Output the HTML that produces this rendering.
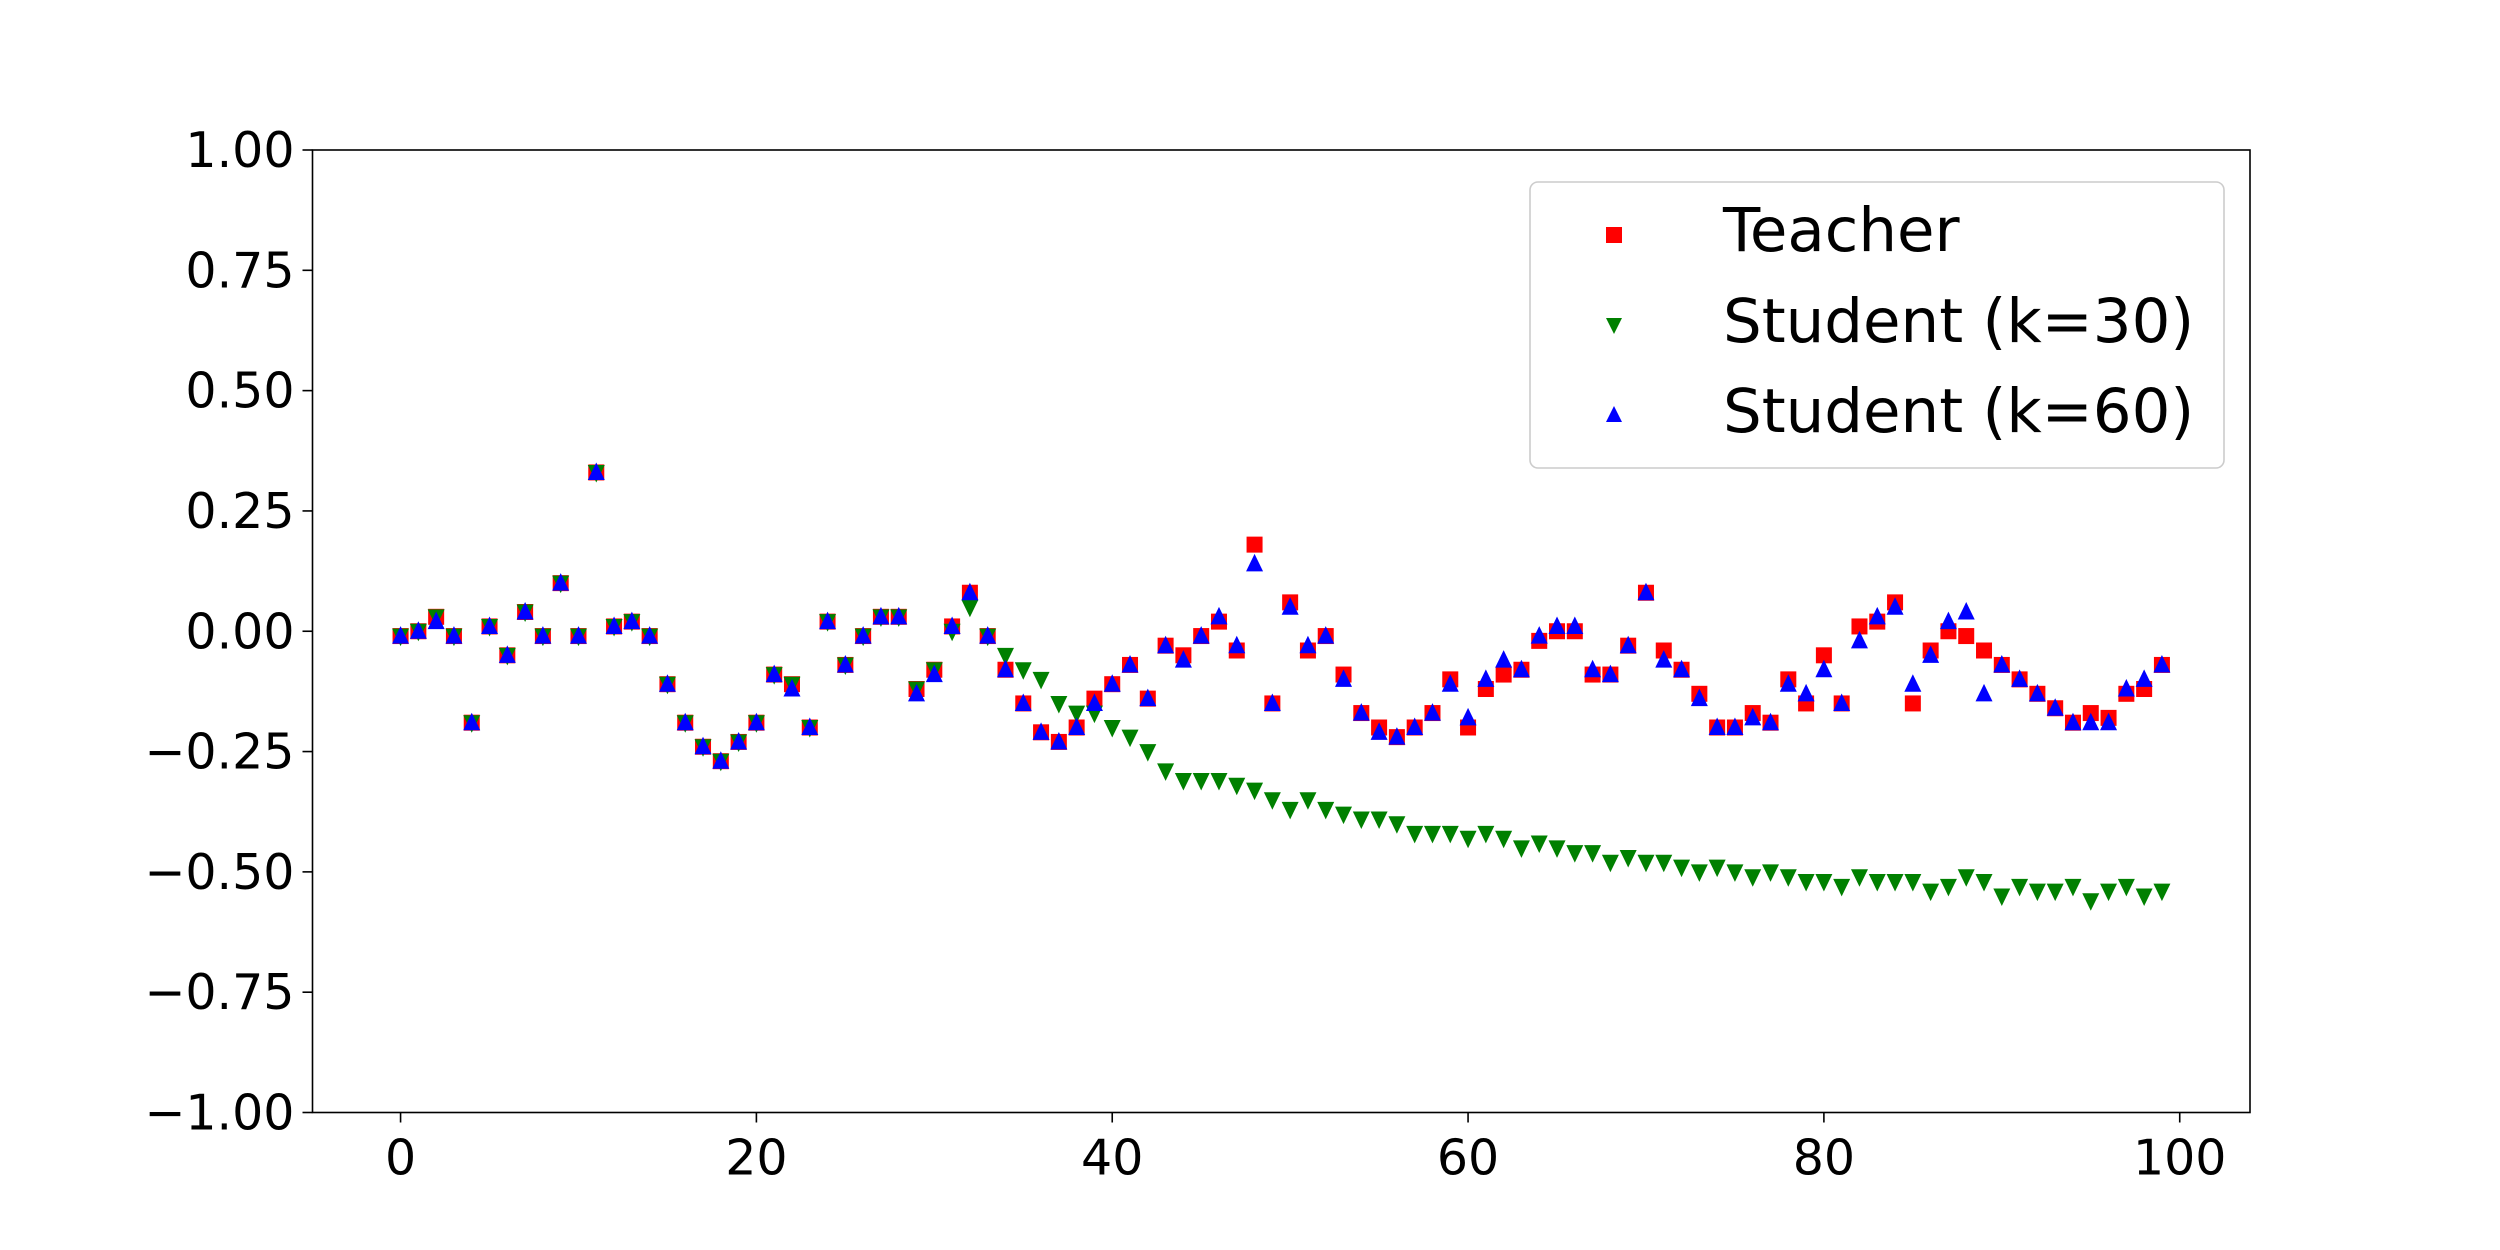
<!DOCTYPE html>
<html><head><meta charset="utf-8"><style>
html,body{margin:0;padding:0;background:#fff;}
svg{display:block;font-family:"DejaVu Sans","Liberation Sans",sans-serif;}
</style></head><body>
<svg id="chart" width="2500" height="1250" viewBox="0 0 2500 1250" xmlns="http://www.w3.org/2000/svg">
<rect x="0" y="0" width="2500" height="1250" fill="#fff"/>
<g id="ticks"></g>
<g id="marks"></g>
<rect x="312.5" y="150" width="1937.5" height="962.5" fill="none" stroke="#000" stroke-width="1.6"/>
<g>
<rect x="1530" y="182" width="694" height="286" rx="8" fill="#fff" fill-opacity="0.8" stroke="#ccc" stroke-width="1.6"/>
<rect x="1606" y="227" width="16" height="16" fill="#ff0000"/>
<text x="1723" y="251" font-size="61">Teacher</text>
<path d="M1606,318 L1622,318 L1614,334 Z" fill="#008000"/>
<text x="1723" y="342" font-size="61">Student (k=30)</text>
<path d="M1606,422 L1622,422 L1614,406 Z" fill="#0000ff"/>
<text x="1723" y="432" font-size="61">Student (k=60)</text>
</g>
</svg>
<script>
const xTicks = [0, 20, 40, 60, 80, 100];
const yTicks = [1.0, 0.75, 0.5, 0.25, 0.0, -0.25, -0.5, -0.75, -1.0];
const yTickLabels = ["1.00", "0.75", "0.50", "0.25", "0.00", "\u22120.25", "\u22120.50", "\u22120.75", "\u22121.00"];
const teacher = [-0.01,0.0,0.03,-0.01,-0.19,0.01,-0.05,0.04,-0.01,0.10,-0.01,0.33,0.01,0.02,-0.01,-0.11,-0.19,-0.24,-0.27,-0.23,
-0.19,-0.09,-0.11,-0.20,0.02,-0.07,-0.01,0.03,0.03,-0.12,-0.08,0.01,0.08,-0.01,-0.08,-0.15,-0.21,-0.23,-0.20,-0.14,
-0.11,-0.07,-0.14,-0.03,-0.05,-0.01,0.02,-0.04,0.18,-0.15,0.06,-0.04,-0.01,-0.09,-0.17,-0.20,-0.22,-0.20,-0.17,-0.10,
-0.20,-0.12,-0.09,-0.08,-0.02,0.0,0.0,-0.09,-0.09,-0.03,0.08,-0.04,-0.08,-0.13,-0.20,-0.20,-0.17,-0.19,-0.10,-0.15,
-0.05,-0.15,0.01,0.02,0.06,-0.15,-0.04,0.0,-0.01,-0.04,-0.07,-0.10,-0.13,-0.16,-0.19,-0.17,-0.18,-0.13,-0.12,-0.07];
const studentK30 = [-0.01,0.0,0.03,-0.01,-0.19,0.01,-0.05,0.04,-0.01,0.10,-0.01,0.33,0.01,0.02,-0.01,-0.11,-0.19,-0.24,-0.27,-0.23,
-0.19,-0.09,-0.11,-0.20,0.02,-0.07,-0.01,0.03,0.03,-0.12,-0.08,0.0,0.05,-0.01,-0.05,-0.08,-0.10,-0.15,-0.17,-0.17,
-0.20,-0.22,-0.25,-0.29,-0.31,-0.31,-0.31,-0.32,-0.33,-0.35,-0.37,-0.35,-0.37,-0.38,-0.39,-0.39,-0.40,-0.42,-0.42,-0.42,
-0.43,-0.42,-0.43,-0.45,-0.44,-0.45,-0.46,-0.46,-0.48,-0.47,-0.48,-0.48,-0.49,-0.50,-0.49,-0.50,-0.51,-0.50,-0.51,-0.52,
-0.52,-0.53,-0.51,-0.52,-0.52,-0.52,-0.54,-0.53,-0.51,-0.52,-0.55,-0.53,-0.54,-0.54,-0.53,-0.56,-0.54,-0.53,-0.55,-0.54];
const studentK60 = [-0.01,0.0,0.02,-0.01,-0.19,0.01,-0.05,0.04,-0.01,0.10,-0.01,0.33,0.01,0.02,-0.01,-0.11,-0.19,-0.24,-0.27,-0.23,
-0.19,-0.09,-0.12,-0.20,0.02,-0.07,-0.01,0.03,0.03,-0.13,-0.09,0.01,0.08,-0.01,-0.08,-0.15,-0.21,-0.23,-0.20,-0.15,
-0.11,-0.07,-0.14,-0.03,-0.06,-0.01,0.03,-0.03,0.14,-0.15,0.05,-0.03,-0.01,-0.10,-0.17,-0.21,-0.22,-0.20,-0.17,-0.11,
-0.18,-0.10,-0.06,-0.08,-0.01,0.01,0.01,-0.08,-0.09,-0.03,0.08,-0.06,-0.08,-0.14,-0.20,-0.20,-0.18,-0.19,-0.11,-0.13,
-0.08,-0.15,-0.02,0.03,0.05,-0.11,-0.05,0.02,0.04,-0.13,-0.07,-0.10,-0.13,-0.16,-0.19,-0.19,-0.19,-0.12,-0.10,-0.07];

const NS = "http://www.w3.org/2000/svg";
const L = 312.5, R = 2250, T = 150, B = 1112.5;
const xMin = -4.95, xMax = 103.95, yMin = -1, yMax = 1;
function xs(v){ return L + (v - xMin) / (xMax - xMin) * (R - L); }
function ys(v){ return B - (v - yMin) / (yMax - yMin) * (B - T); }
function mk(tag, attrs){ const e = document.createElementNS(NS, tag); for (const k in attrs) e.setAttribute(k, attrs[k]); return e; }

const tg = document.getElementById('ticks');
xTicks.forEach(function(v){
  const x = xs(v);
  const ln = mk('line', {x1:x, x2:x, y1:B, y2:B+10, stroke:'#000', 'stroke-width':1.6});
  
  
  tg.appendChild(ln);
  const t = mk('text', {x:x, y:B+62, 'font-size':49, 'text-anchor':'middle'});
  
  
  t.textContent = String(v);
  tg.appendChild(t);
});
yTicks.forEach(function(v, i){
  const y = ys(v);
  const ln = mk('line', {x1:L-10, x2:L, y1:y, y2:y, stroke:'#000', 'stroke-width':1.6});
  
  
  tg.appendChild(ln);
  const t = mk('text', {x:L-18, y:y+17, 'font-size':49, 'text-anchor':'end'});
  
  
  t.textContent = yTickLabels[i];
  tg.appendChild(t);
});

const mg = document.getElementById('marks');
teacher.forEach(function(v, i){
  const x = xs(i), y = ys(v);
  const r = mk('rect', {x:x-8, y:y-8, width:16, height:16, fill:'#ff0000'});
  
  
  mg.appendChild(r);
});
studentK30.forEach(function(v, i){
  const x = xs(i), y = ys(v);
  const p = mk('path', {d:'M'+(x-8.5)+','+(y-7.5)+' L'+(x+8.5)+','+(y-7.5)+' L'+x+','+(y+10)+' Z', fill:'#008000'});
  
  
  mg.appendChild(p);
});
studentK60.forEach(function(v, i){
  const x = xs(i), y = ys(v);
  const p = mk('path', {d:'M'+(x-8.5)+','+(y+7.5)+' L'+(x+8.5)+','+(y+7.5)+' L'+x+','+(y-10)+' Z', fill:'#0000ff'});
  
  
  mg.appendChild(p);
});
</script>
</body></html>
